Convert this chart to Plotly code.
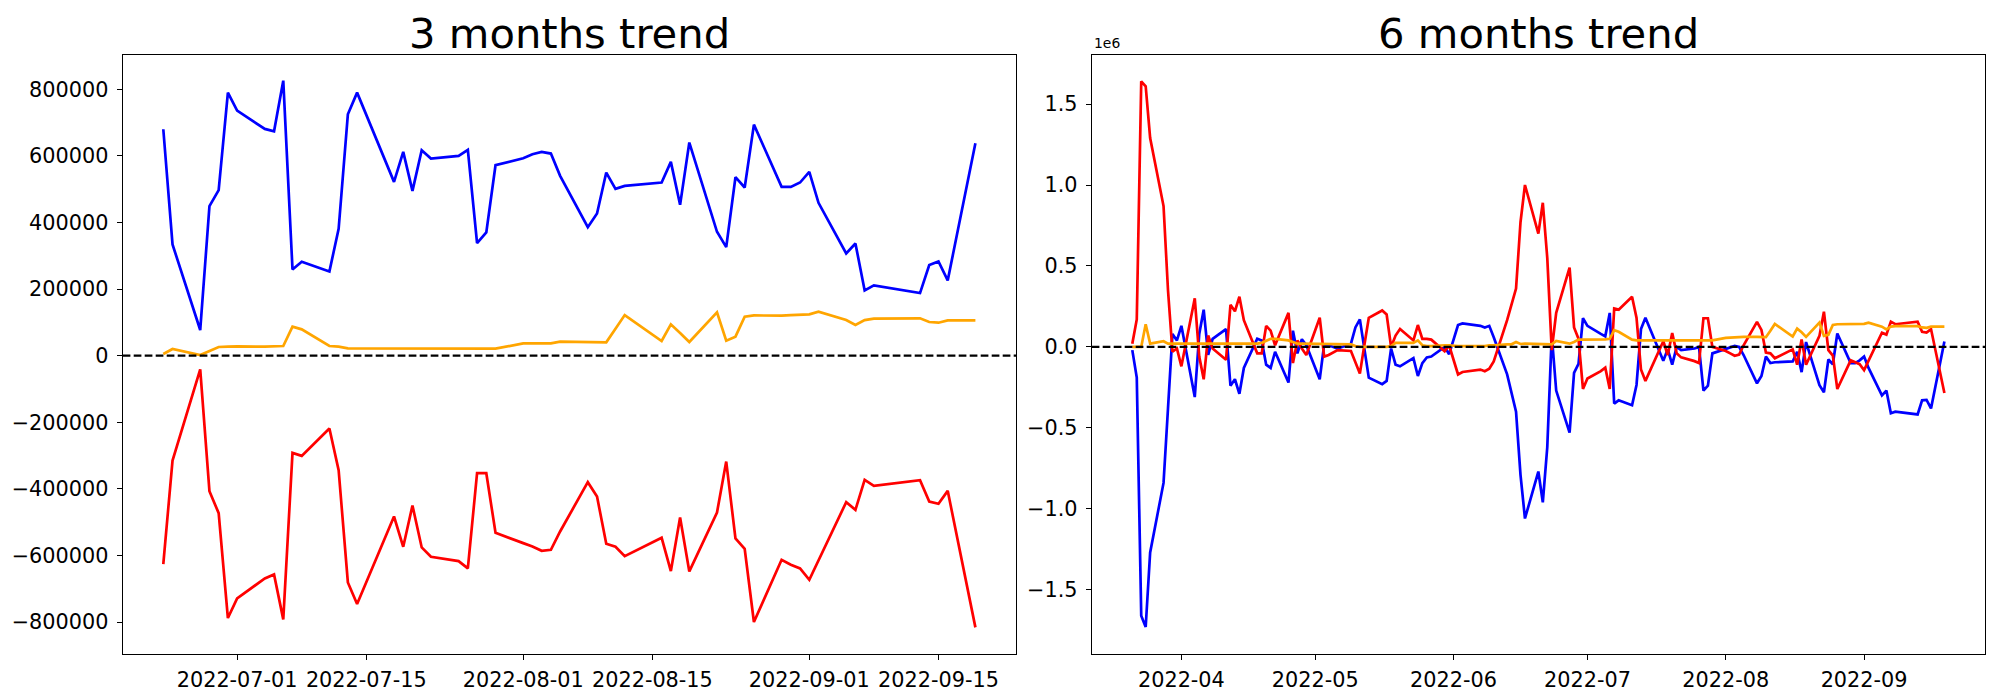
import plotly.graph_objects as go

# ---------------- 3 months data ----------------
dates_3m = ["2022-06-23", "2022-06-24", "2022-06-27", "2022-06-28", "2022-06-29", "2022-06-30", "2022-07-01",
            "2022-07-04", "2022-07-05", "2022-07-06", "2022-07-07", "2022-07-08",
            "2022-07-11", "2022-07-12", "2022-07-13", "2022-07-14",
            "2022-07-18", "2022-07-19", "2022-07-20", "2022-07-21", "2022-07-22",
            "2022-07-25", "2022-07-26", "2022-07-27", "2022-07-28", "2022-07-29",
            "2022-08-01", "2022-08-02", "2022-08-03", "2022-08-04", "2022-08-05",
            "2022-08-08", "2022-08-09", "2022-08-10", "2022-08-11", "2022-08-12",
            "2022-08-16", "2022-08-17", "2022-08-18", "2022-08-19",
            "2022-08-22", "2022-08-23", "2022-08-24", "2022-08-25", "2022-08-26",
            "2022-08-29", "2022-08-30", "2022-08-31", "2022-09-01", "2022-09-02",
            "2022-09-05", "2022-09-06", "2022-09-07", "2022-09-08",
            "2022-09-13", "2022-09-14", "2022-09-15", "2022-09-16",
            "2022-09-19"]

blue_3m = [680000, 334000, 77000, 449000, 497000, 790000, 736000,
           681000, 674000, 826000, 259000, 282000,
           253000, 381000, 725000, 790000,
           522000, 612000, 495000, 617000, 592000,
           600000, 618000, 338000, 370000, 572000,
           593000, 605000, 612000, 607000, 540000,
           386000, 427000, 550000, 501000, 510000,
           520000, 582000, 453000, 640000,
           372000, 326000, 536000, 505000, 694000,
           507000, 507000, 520000, 552000, 459000,
           307000, 337000, 196000, 211000,
           188000, 272000, 283000, 226000,
           638000]

red_3m = [-626000, -315000, -41000, -407000, -473000, -788000, -729000,
          -669000, -657000, -792000, -292000, -301000,
          -219000, -344000, -681000, -746000,
          -483000, -574000, -450000, -576000, -604000,
          -617000, -639000, -353000, -353000, -532000,
          -563000, -573000, -586000, -583000, -528000,
          -380000, -423000, -565000, -574000, -602000,
          -547000, -647000, -486000, -648000,
          -471000, -318000, -549000, -580000, -800000,
          -613000, -628000, -639000, -673000, -614000,
          -440000, -463000, -373000, -391000,
          -374000, -438000, -445000, -406000,
          -816000]

orange_3m = [5000, 20000, 2000, 14000, 26000, 27000, 28000,
             27000, 29000, 29000, 87000, 79000,
             29000, 27000, 22000, 22000,
             21000, 21000, 21000, 21000, 21000,
             21000, 21000, 22000, 22000, 21000,
             37000, 37000, 37000, 37000, 42000,
             40000, 40000, 40000, 81000, 122000,
             44000, 94000, 68000, 41000,
             130000, 45000, 57000, 117000, 121000,
             120000, 122000, 123000, 124000, 132000,
             107000, 92000, 107000, 111000,
             112000, 101000, 99000, 106000,
             106000]

# ---------------- 6 months data (values in units of 1e6) ----------------
dates_6m = ["2022-03-21", "2022-03-22", "2022-03-23", "2022-03-24", "2022-03-25",
            "2022-03-28", "2022-03-29", "2022-03-30", "2022-03-31", "2022-04-01",
            "2022-04-04", "2022-04-05", "2022-04-06", "2022-04-07", "2022-04-08",
            "2022-04-11", "2022-04-12", "2022-04-13", "2022-04-14", "2022-04-15",
            "2022-04-18", "2022-04-19", "2022-04-20", "2022-04-21", "2022-04-22",
            "2022-04-25", "2022-04-26", "2022-04-27", "2022-04-28", "2022-04-29",
            "2022-05-02", "2022-05-03", "2022-05-04", "2022-05-06",
            "2022-05-09", "2022-05-10", "2022-05-11", "2022-05-12", "2022-05-13",
            "2022-05-16", "2022-05-17", "2022-05-18", "2022-05-19", "2022-05-20",
            "2022-05-23", "2022-05-24", "2022-05-25", "2022-05-26", "2022-05-27",
            "2022-05-30", "2022-05-31", "2022-06-02", "2022-06-03",
            "2022-06-07", "2022-06-08", "2022-06-09", "2022-06-10",
            "2022-06-13", "2022-06-14", "2022-06-15", "2022-06-16", "2022-06-17",
            "2022-06-20", "2022-06-21", "2022-06-22", "2022-06-23", "2022-06-24",
            "2022-06-27", "2022-06-28", "2022-06-29", "2022-06-30", "2022-07-01",
            "2022-07-04", "2022-07-05", "2022-07-06", "2022-07-07", "2022-07-08",
            "2022-07-11", "2022-07-12", "2022-07-13", "2022-07-14",
            "2022-07-18", "2022-07-19", "2022-07-20", "2022-07-21", "2022-07-22",
            "2022-07-25", "2022-07-26", "2022-07-27", "2022-07-28", "2022-07-29",
            "2022-08-01", "2022-08-02", "2022-08-03", "2022-08-04", "2022-08-05",
            "2022-08-08", "2022-08-09", "2022-08-10", "2022-08-11", "2022-08-12",
            "2022-08-16", "2022-08-17", "2022-08-18", "2022-08-19",
            "2022-08-22", "2022-08-23", "2022-08-24", "2022-08-25", "2022-08-26",
            "2022-08-29", "2022-08-30", "2022-08-31", "2022-09-01", "2022-09-02",
            "2022-09-05", "2022-09-06", "2022-09-07", "2022-09-08",
            "2022-09-13", "2022-09-14", "2022-09-15", "2022-09-16",
            "2022-09-19"]

red_6m = [0.02, 0.17, 1.64, 1.61, 1.29,
          0.87, 0.35, -0.03, -0.01, -0.12,
          0.30, -0.06, -0.20, 0.07, -0.01,
          -0.08, 0.26, 0.22, 0.31, 0.165,
          -0.04, -0.04, 0.13, 0.10, 0.01,
          0.21, -0.10, 0.04, -0.01, -0.05,
          0.18, -0.06, -0.05, -0.02,
          -0.025, -0.09, -0.165, 0.01, 0.18,
          0.225, 0.20, 0.0, 0.07, 0.11,
          0.04, 0.135, 0.05, 0.05, 0.045,
          -0.027, 0.01, -0.17, -0.155,
          -0.14, -0.15, -0.135, -0.09,
          0.165, 0.27, 0.36, 0.77, 1.0,
          0.70, 0.89, 0.55, -0.02, 0.21,
          0.49, 0.12, 0.05, -0.26, -0.195,
          -0.15, -0.128, -0.26, 0.237, 0.23,
          0.31, 0.18, -0.14, -0.21,
          0.035, -0.05, 0.085, -0.04, -0.065,
          -0.088, -0.10, 0.177, 0.177, 0.0,
          -0.025, -0.04, -0.055, -0.048, 0.01,
          0.155, 0.105, -0.035, -0.04, -0.07,
          -0.015, -0.11, 0.046, -0.11,
          0.068, 0.217, -0.02, -0.054, -0.26,
          -0.083, -0.095, -0.107, -0.144, -0.085,
          0.088, 0.076, 0.156, 0.14,
          0.156, 0.093, 0.088, 0.11,
          -0.285]

blue_6m = [-0.02, -0.19, -1.66, -1.73, -1.27,
           -0.84, -0.38, 0.08, 0.04, 0.13,
           -0.31, 0.08, 0.23, -0.05, 0.05,
           0.11, -0.24, -0.20, -0.29, -0.13,
           0.05, 0.04, -0.11, -0.13, -0.03,
           -0.22, 0.10, -0.04, 0.047, 0.01,
           -0.20, 0.015, 0.01, -0.01,
           0.02, 0.12, 0.17, -0.01, -0.19,
           -0.23, -0.21, -0.01, -0.11, -0.12,
           -0.07, -0.18, -0.10, -0.065, -0.06,
           0.0, -0.045, 0.135, 0.145,
           0.13, 0.12, 0.13, 0.06,
           -0.17, -0.29, -0.40, -0.79, -1.06,
           -0.77, -0.96, -0.62, 0.075, -0.27,
           -0.53, -0.16, -0.105, 0.177, 0.13,
           0.08, 0.065, 0.21, -0.35, -0.33,
           -0.36, -0.235, 0.11, 0.18,
           -0.085, -0.015, -0.11, 0.0, -0.02,
           -0.01, 0.0, -0.27, -0.24, -0.04,
           -0.01, -0.004, 0.006, 0.0, -0.05,
           -0.225, -0.18, -0.06, -0.10, -0.095,
           -0.09, -0.03, -0.156, 0.03,
           -0.237, -0.28, -0.078, -0.107, 0.083,
           -0.10, -0.10, -0.083, -0.06, -0.13,
           -0.30, -0.27, -0.41, -0.40,
           -0.417, -0.33, -0.327, -0.38,
           0.034]

orange_6m = [0.0, 0.0, 0.0, 0.14, 0.02,
             0.035, 0.02, 0.02, 0.02, 0.02,
             0.02, 0.02, 0.02, 0.02, 0.02,
             0.02, 0.02, 0.02, 0.02, 0.02,
             0.02, 0.025, 0.04, 0.05, 0.05,
             0.04, 0.03, 0.02, 0.02, 0.02,
             0.02, 0.02, 0.016, 0.016,
             0.016, 0.005, 0.0, 0.0, 0.0,
             0.0, 0.0, 0.005, 0.025, 0.025,
             0.025, 0.04, 0.01, 0.005, 0.005,
             0.01, 0.01, 0.005, 0.005,
             0.005, 0.005, 0.01, 0.01,
             0.016, 0.016, 0.03, 0.018, 0.02,
             0.02, 0.02, 0.016, 0.016, 0.037,
             0.02, 0.03, 0.045, 0.045, 0.045,
             0.045, 0.047, 0.05, 0.103, 0.093,
             0.045, 0.04, 0.04, 0.04,
             0.04, 0.04, 0.04, 0.04, 0.04,
             0.04, 0.04, 0.04, 0.04, 0.04,
             0.056, 0.058, 0.06, 0.06, 0.062,
             0.062, 0.06, 0.06, 0.10, 0.142,
             0.064, 0.113, 0.09, 0.062,
             0.15, 0.068, 0.075, 0.135, 0.14,
             0.14, 0.14, 0.141, 0.142, 0.15,
             0.125, 0.108, 0.125, 0.128,
             0.128, 0.12, 0.118, 0.125,
             0.125]

# ---------------- ticks ----------------
xticks_3m = ["2022-07-01", "2022-07-15", "2022-08-01", "2022-08-15", "2022-09-01", "2022-09-15"]
xticks_6m = ["2022-04-01", "2022-05-01", "2022-06-01", "2022-07-01", "2022-08-01", "2022-09-01"]
xticklabels_6m = ["2022-04", "2022-05", "2022-06", "2022-07", "2022-08", "2022-09"]
yticks_3m = [-800000, -600000, -400000, -200000, 0, 200000, 400000, 600000, 800000]
yticks_6m = [-1.5, -1.0, -0.5, 0.0, 0.5, 1.0, 1.5]

SCALE_6M = 1e6
FONT = "DejaVu Sans"
W, H = 2000, 700


def minus(s):
    return s.replace("-", "\u2212")


fig = go.Figure()
LW = 2.7
for ys, col in [(blue_3m, "blue"), (red_3m, "red"), (orange_3m, "orange")]:
    fig.add_trace(go.Scatter(x=dates_3m, y=ys, mode="lines", line=dict(color=col, width=LW),
                             xaxis="x", yaxis="y", showlegend=False))
for ys, col in [(blue_6m, "blue"), (red_6m, "red"), (orange_6m, "orange")]:
    fig.add_trace(go.Scatter(x=dates_6m, y=[v * SCALE_6M for v in ys], mode="lines",
                             line=dict(color=col, width=LW),
                             xaxis="x2", yaxis="y2", showlegend=False))

# axes geometry (pixels in the 2000x700 canvas)
L1, R1 = 122.7, 1016.0
L2, R2 = 1091.7, 1985.0
TOP, BOT = 55.0, 654.0
ydom = [1 - BOT / H, 1 - TOP / H]

axis_common = dict(showline=True, mirror=True, linecolor="black", linewidth=1.1,
                   ticks="outside", ticklen=5, tickwidth=1.1, tickcolor="black",
                   showgrid=False, zeroline=False,
                   tickfont=dict(family=FONT, size=20.8, color="black"))

fig.update_layout(
    width=W, height=H, margin=dict(l=0, r=0, t=0, b=0),
    paper_bgcolor="white", plot_bgcolor="white",
    xaxis=dict(domain=[L1 / W, R1 / W], anchor="y", type="date",
               range=["2022-06-18 14:24", "2022-09-23 09:36"],
               tickvals=xticks_3m, ticktext=xticks_3m, ticklabelstandoff=2, **axis_common),
    yaxis=dict(domain=ydom, anchor="x", range=[-896000, 903000],
               tickvals=yticks_3m, ticktext=[minus(str(v)) for v in yticks_3m],
               ticklabelstandoff=4, **axis_common),
    xaxis2=dict(domain=[L2 / W, R2 / W], anchor="y2", type="date",
                range=["2022-03-11 21:36", "2022-09-28 02:24"],
                tickvals=xticks_6m, ticktext=xticklabels_6m, ticklabelstandoff=2, **axis_common),
    yaxis2=dict(domain=ydom, anchor="x2", range=[-1.897e6, 1.803e6],
                tickvals=[v * SCALE_6M for v in yticks_6m],
                ticktext=[minus(f"{v:.1f}") for v in yticks_6m],
                ticklabelstandoff=4, **axis_common),
)

dash = dict(color="black", width=2.1, dash="7.7px,3.3px")
fig.add_shape(type="line", xref="x domain", yref="y", x0=0, x1=1, y0=0, y1=0, line=dash, layer="above")
fig.add_shape(type="line", xref="x2 domain", yref="y2", x0=0, x1=1, y0=0, y1=0, line=dash, layer="above")

fig.add_annotation(text="3 months trend", xref="paper", yref="paper",
                   x=(L1 + R1) / 2 / W, y=1 - 33 / H, xanchor="center", yanchor="middle",
                   showarrow=False, font=dict(family=FONT, size=41.7, color="black"))
fig.add_annotation(text="6 months trend", xref="paper", yref="paper",
                   x=(L2 + R2) / 2 / W, y=1 - 33 / H, xanchor="center", yanchor="middle",
                   showarrow=False, font=dict(family=FONT, size=41.7, color="black"))
fig.add_annotation(text="1e6", xref="paper", yref="paper",
                   x=L2 / W, y=1 - 53 / H, xanchor="left", yanchor="bottom",
                   showarrow=False, font=dict(family=FONT, size=13.9, color="black"))

# remove the default 8px page margin so the figure sits at the window origin
fig.write_html("out.html", config={"displayModeBar": False},
               post_script="document.body.style.margin='0';document.body.style.overflow='hidden';")
